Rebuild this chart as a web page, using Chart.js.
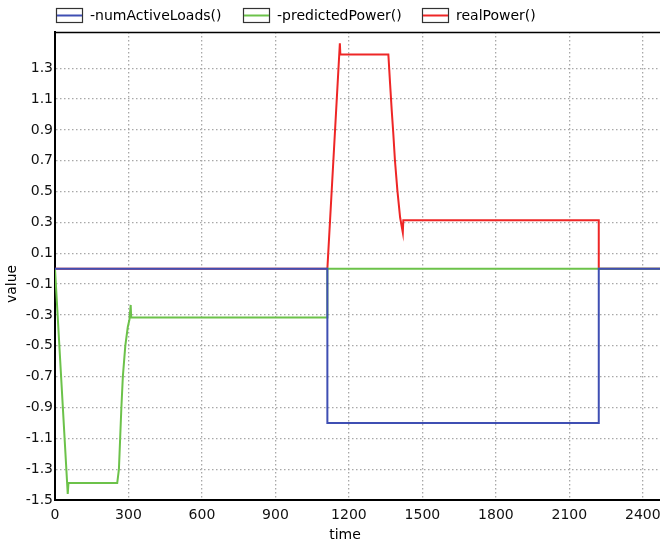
<!DOCTYPE html>
<html>
<head>
<meta charset="utf-8">
<script src="https://cdn.jsdelivr.net/npm/chart.js@4/dist/chart.umd.min.js"></script>
<style>
  html, body { margin: 0; padding: 0; background: #fff; }
  #wrap { position: relative; width: 660px; height: 546px; }
</style>
</head>
<body>
<div id="wrap"><canvas id="chart"></canvas></div>
<script>
// ── DATA ──────────────────────────────
const xTicks = [0, 300, 600, 900, 1200, 1500, 1800, 2100, 2400];
const yTicks = [-1.5, -1.3, -1.1, -0.9, -0.7, -0.5, -0.3, -0.1, 0.1, 0.3, 0.5, 0.7, 0.9, 1.1, 1.3];

const loadsTime   = [0, 1112, 1112, 2220, 2220, 2470];
const loadsValues = [0, 0, -1, -1, 0, 0];

const predTime   = [0, 52, 55, 254, 261, 266, 271, 277, 287, 297, 304, 309, 311, 1112, 1112, 2470];
const predValues = [0, -1.46, -1.39, -1.39, -1.3, -1.1, -0.9, -0.7, -0.5, -0.38, -0.33, -0.235, -0.317, -0.317, 0, 0];

const realTime   = [0, 1112, 1163, 1165, 1361, 1368, 1375, 1381, 1388, 1398, 1409, 1420, 1422, 2220, 2220, 2470];
const realValues = [0, 0, 1.462, 1.389, 1.389, 1.2, 1.02, 0.88, 0.7, 0.505, 0.332, 0.235, 0.315, 0.315, 0, 0];

const seriesLabels = ['-numActiveLoads()', '-predictedPower()', 'realPower()'];
const seriesColors = ['#3f4fb3', '#6cc24a', '#ee2626'];

const FONT = '"DejaVu Sans", Verdana, sans-serif';

function toPoints(xs, ys) {
  return xs.map((x, i) => ({ x, y: ys[i] }));
}

// ── LEGEND / FRAME / AXIS TITLES ──────
const legendBoxX = [56, 243, 422];

const framePlugin = {
  id: 'frame',
  afterDraw(chart) {
    const { ctx, chartArea: a } = chart;
    ctx.save();

    // top frame line
    ctx.strokeStyle = '#000';
    ctx.lineWidth = 1.5;
    ctx.beginPath();
    ctx.moveTo(a.left, a.top + 0.5);
    ctx.lineTo(a.right, a.top + 0.5);
    ctx.stroke();

    // legend
    ctx.font = '14px ' + FONT;
    ctx.textBaseline = 'middle';
    chart.data.datasets.forEach((ds, i) => {
      const x = legendBoxX[i];
      ctx.fillStyle = '#fff';
      ctx.fillRect(x, 8, 26, 14);
      ctx.strokeStyle = '#333';
      ctx.lineWidth = 1.2;
      ctx.strokeRect(x + 0.5, 8.5, 26, 14);
      ctx.strokeStyle = ds.borderColor;
      ctx.lineWidth = 2;
      ctx.beginPath();
      ctx.moveTo(x + 1, 15.5);
      ctx.lineTo(x + 26, 15.5);
      ctx.stroke();
      ctx.fillStyle = '#000';
      ctx.textAlign = 'left';
      ctx.fillText(ds.label, x + 34, 16);
    });

    // axis titles
    ctx.textAlign = 'center';
    ctx.fillText('time', 345, 535);
    ctx.translate(12, 284);
    ctx.rotate(-Math.PI / 2);
    ctx.fillText('value', 0, 0);
    ctx.restore();
  }
};

const gridStyle = { color: '#a8a8a8', lineWidth: 1.3, drawTicks: false, tickLength: 0 };
const borderStyle = { display: true, color: '#000', width: 2, dash: [1.5, 2.5] };
const tickFont = { family: FONT, size: 14 };

new Chart(document.getElementById('chart'), {
  type: 'line',
  data: {
    datasets: [
      { label: seriesLabels[0], data: toPoints(loadsTime, loadsValues), borderColor: seriesColors[0] },
      { label: seriesLabels[1], data: toPoints(predTime, predValues),   borderColor: seriesColors[1] },
      { label: seriesLabels[2], data: toPoints(realTime, realValues),   borderColor: seriesColors[2] },
    ].map(d => ({ ...d, borderWidth: 2, pointRadius: 0, tension: 0, fill: false })),
  },
  options: {
    responsive: true,
    maintainAspectRatio: false,
    animation: false,
    parsing: false,
    layout: { padding: { top: 32, left: 0, right: 0, bottom: 0 } },
    plugins: {
      legend: { display: false },
      tooltip: { enabled: false },
    },
    scales: {
      x: {
        type: 'linear',
        min: 0,
        max: 2470,
        grid: gridStyle,
        border: borderStyle,
        afterBuildTicks: s => { s.ticks = xTicks.map(v => ({ value: v })); },
        afterFit: s => { s.height = 46; s.paddingLeft = 0; s.paddingRight = 0; },
        ticks: { autoSkip: false, maxRotation: 0, padding: 7, color: '#111', font: tickFont, callback: v => String(v) },
      },
      y: {
        type: 'linear',
        min: -1.5,
        max: 1.535,
        grid: gridStyle,
        border: borderStyle,
        afterBuildTicks: s => { s.ticks = yTicks.map(v => ({ value: v })); },
        afterFit: s => { s.width = 55; s.paddingTop = 0; s.paddingBottom = 0; },
        ticks: { autoSkip: false, padding: 2, color: '#111', font: tickFont, callback: v => v.toFixed(1) },
      },
    },
  },
  plugins: [framePlugin],
});
</script>
</body>
</html>
